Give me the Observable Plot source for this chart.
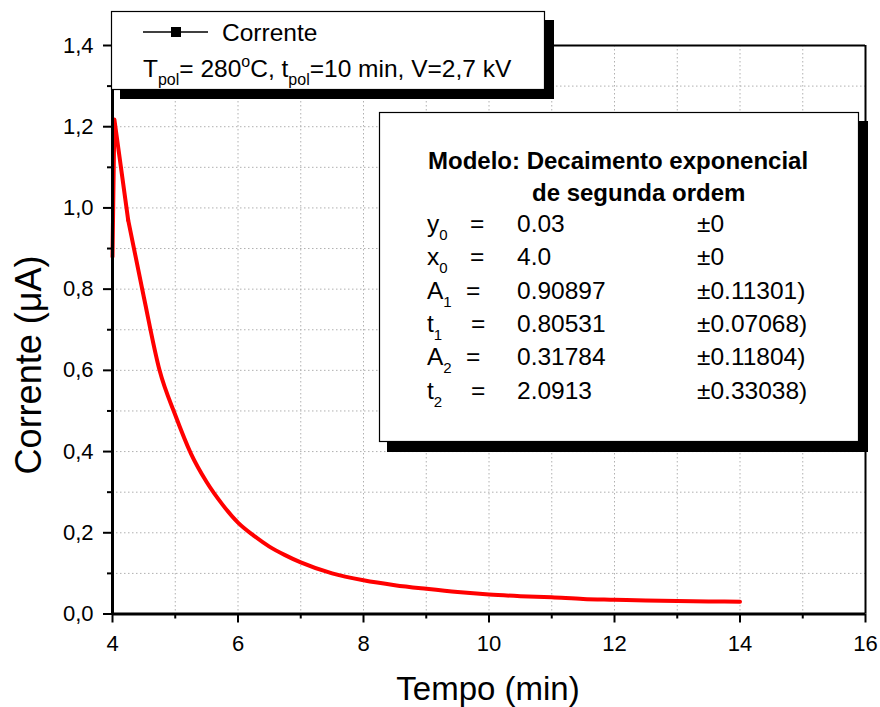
<!DOCTYPE html>
<html>
<head>
<meta charset="utf-8">
<script src="https://cdn.jsdelivr.net/npm/d3@7"></script>
<script src="https://cdn.jsdelivr.net/npm/@observablehq/plot@0.6"></script>
<style>
  html, body { margin: 0; padding: 0; background: #fff; }
  #chart svg { display: block; font-family: Arial, "Liberation Sans", sans-serif; }
</style>
</head>
<body>
<div id="chart"></div>
<script>
// ---- data ----
const tempo = [4.0, 4.03, 4.25, 4.5, 4.75, 5.0, 5.25, 5.5, 5.75, 6.0, 6.25, 6.5, 6.75, 7.0, 7.5, 8.0, 8.5, 9.0, 9.5, 10.0, 10.5, 11.0, 11.5, 12.0, 12.5, 13.0, 13.5, 14.0];
const corrente = [0.88, 1.218, 0.97, 0.78, 0.60, 0.49, 0.395, 0.325, 0.27, 0.225, 0.193, 0.166, 0.145, 0.127, 0.100, 0.083, 0.071, 0.062, 0.054, 0.048, 0.044, 0.041, 0.037, 0.035, 0.033, 0.032, 0.031, 0.030];

const xTicksMajor = [4, 6, 8, 10, 12, 14, 16];
const xTicksMinor = [5, 7, 9, 11, 13, 15];
const yTicksMajor = [0, 0.2, 0.4, 0.6, 0.8, 1.0, 1.2, 1.4];
const yTicksMinor = [0.1, 0.3, 0.5, 0.7, 0.9, 1.1, 1.3];
const xGrid = [5, 6, 7, 8, 9, 10, 11, 12, 13, 14, 15];
const yGrid = [0.1, 0.2, 0.3, 0.4, 0.5, 0.6, 0.7, 0.8, 0.9, 1.0, 1.1, 1.2, 1.3];

const xTitle = "Tempo (min)";
const yTitle = "Corrente (\u03bcA)";
const legendLabel = "Corrente";
const paramNames = ["y", "x", "A", "t", "A", "t"];
const paramSubs = ["0", "0", "1", "1", "2", "2"];
const paramValues = ["0.03", "4.0", "0.90897", "0.80531", "0.31784", "2.0913"];
const paramErrors = ["\u00b10", "\u00b10", "\u00b10.11301)", "\u00b10.07068)", "\u00b10.11804)", "\u00b10.33038)"];

const data = tempo.map((t, i) => ({tempo: t, corrente: corrente[i]}));
const rise = data.slice(0, 3);   // steep start: straight segments
const decay = data.slice(2);     // smooth decay
const fmt = d => d.toFixed(1).replace(".", ",");
const font = "Arial, 'Liberation Sans', sans-serif";
const lineStyle = {x: "tempo", y: "corrente", stroke: "#ff0000", strokeWidth: 4, strokeLinejoin: "round"};

const chart = Plot.plot({
  width: 880,
  height: 707,
  marginLeft: 112,
  marginRight: 15,
  marginTop: 45,
  marginBottom: 93.5,
  style: {fontFamily: font, background: "#fff", color: "#000"},
  x: {domain: [4, 16]},
  y: {domain: [0, 1.4]},
  marks: [
    Plot.ruleX(xGrid, {stroke: "#b0b0b0", strokeWidth: 1, strokeDasharray: "1.5,2.5"}),
    Plot.ruleY(yGrid, {stroke: "#b0b0b0", strokeWidth: 1, strokeDasharray: "1.5,2.5"}),
    Plot.line(rise, {...lineStyle, curve: "linear"}),
    Plot.line(decay, {...lineStyle, curve: "monotone-x"}),
    Plot.ruleY([1.4], {stroke: "#000", strokeWidth: 2}),
    Plot.ruleX([16], {stroke: "#000", strokeWidth: 2}),
    Plot.ruleY([0], {stroke: "#000", strokeWidth: 3}),
    Plot.ruleX([4], {stroke: "#000", strokeWidth: 3}),
    Plot.axisX(xTicksMajor, {tickSize: 9, tickPadding: 12, strokeWidth: 2, fontSize: 22, label: null, tickFormat: d => String(d)}),
    Plot.axisX(xTicksMinor, {tickSize: 5, strokeWidth: 2, label: null, tickFormat: () => ""}),
    Plot.axisY(yTicksMajor, {tickSize: 9, tickPadding: 10, strokeWidth: 2, fontSize: 22, label: null, tickFormat: fmt}),
    Plot.axisY(yTicksMinor, {tickSize: 5, strokeWidth: 2, label: null, tickFormat: () => ""})
  ]
});

document.getElementById("chart").appendChild(chart);

// ---- titles and annotation boxes ----
const svg = d3.select(chart);
const g = svg.append("g").attr("font-family", font).attr("fill", "#000").attr("text-anchor", "start");

g.append("text").attr("x", 488).attr("y", 700).attr("text-anchor", "middle").attr("font-size", 33).text(xTitle);
g.append("text").attr("transform", "translate(41,365) rotate(-90)").attr("text-anchor", "middle").attr("font-size", 36).text(yTitle);

// legend box
g.append("rect").attr("x", 120).attr("y", 20).attr("width", 434).attr("height", 79).attr("fill", "#000");
g.append("rect").attr("x", 111.5).attr("y", 11.5).attr("width", 433).attr("height", 78).attr("fill", "#fff").attr("stroke", "#000").attr("stroke-width", 1.2);
g.append("line").attr("x1", 143).attr("x2", 208).attr("y1", 32).attr("y2", 32).attr("stroke", "#000").attr("stroke-width", 1.3);
g.append("rect").attr("x", 171).attr("y", 27).attr("width", 10).attr("height", 10).attr("fill", "#000");
g.append("text").attr("x", 222).attr("y", 41).attr("font-size", 24.5).text(legendLabel);
const t2 = g.append("text").attr("x", 143).attr("y", 77).attr("font-size", 24.5);
t2.append("tspan").text("T");
t2.append("tspan").attr("font-size", 16).attr("dy", 8).text("pol");
t2.append("tspan").attr("dy", -8).text("= 280");
t2.append("tspan").attr("font-size", 16).attr("dy", -10).text("o");
t2.append("tspan").attr("dy", 10).text("C, t");
t2.append("tspan").attr("font-size", 16).attr("dy", 8).text("pol");
t2.append("tspan").attr("dy", -8).text("=10 min, V=2,7 kV");

// model box
g.append("rect").attr("x", 387).attr("y", 121).attr("width", 481).attr("height", 331).attr("fill", "#000");
g.append("rect").attr("x", 379.5).attr("y", 112.5).attr("width", 479).attr("height", 329).attr("fill", "#fff").attr("stroke", "#000").attr("stroke-width", 1.2);
g.append("text").attr("x", 428).attr("y", 169).attr("font-size", 24).attr("font-weight", "bold").text("Modelo: Decaimento exponencial");
g.append("text").attr("x", 532).attr("y", 201).attr("font-size", 24).attr("font-weight", "bold").text("de segunda ordem");
const eqX = [470, 470, 466, 471, 466, 471];
paramNames.forEach((n, i) => {
  const yb = 232 + i * 33.3;
  const lt = g.append("text").attr("x", 427).attr("y", yb).attr("font-size", 24.5);
  lt.append("tspan").text(n);
  lt.append("tspan").attr("font-size", 15).attr("dy", 8).text(paramSubs[i]);
  g.append("text").attr("x", eqX[i]).attr("y", yb).attr("font-size", 24.5).text("=");
  g.append("text").attr("x", 517).attr("y", yb).attr("font-size", 24.5).text(paramValues[i]);
  g.append("text").attr("x", 697).attr("y", yb).attr("font-size", 24.5).text(paramErrors[i]);
});
</script>
</body>
</html>
